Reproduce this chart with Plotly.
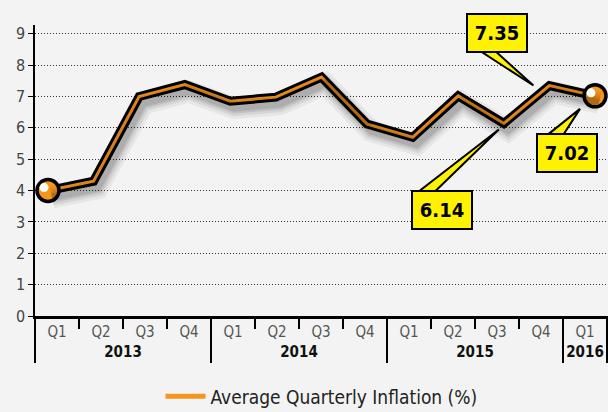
import plotly.graph_objects as go

# ---- data ----
years = ["2013", "2013", "2013", "2013", "2014", "2014", "2014", "2014",
         "2015", "2015", "2015", "2015", "2016"]
quarters = ["Q1", "Q2", "Q3", "Q4", "Q1", "Q2", "Q3", "Q4",
            "Q1", "Q2", "Q3", "Q4", "Q1"]
inflation = [4.0, 4.3, 7.0, 7.38, 6.85, 6.98, 7.62, 6.12, 5.7, 7.02, 6.14, 7.35, 7.02]
series_name = "Average Quarterly Inflation (%)"
y_ticks = [0, 1, 2, 3, 4, 5, 6, 7, 8, 9]
callout_idx = [11, 10, 12]
marker_idx = [0, 12]

# ---- style / layout constants ----
FONT = "DejaVu Sans Condensed, Liberation Sans Narrow, Roboto Condensed, sans-serif"
ORANGE = "#f7941d"
YELLOW = "#fff200"
BG = "#f2f3f2"
PX_X = 45.6    # px per index unit on the numeric x axis
PX_Y = 31.36   # px per unit on y
X_LO, X_HI = -13 / PX_X, 12 + 13 / PX_X
Y_LO, Y_HI = 0, 9.28

n = len(inflation)
idx = list(range(n))

fig = go.Figure()

# invisible trace to build the multicategory axis
fig.add_trace(go.Scatter(
    x=[["<b><span style='color:#111'>%s</span></b>" % y for y in years], quarters],
    y=inflation, mode="markers", marker=dict(opacity=0), hoverinfo="skip",
    showlegend=False, xaxis="x", yaxis="y"))

# shadow (same data, shifted axes)
for w, a in [(22, 0.05), (16, 0.07), (11, 0.09), (7, 0.1)]:
    fig.add_trace(go.Scatter(x=idx, y=inflation, mode="lines",
                             line=dict(color="rgba(0,0,0,%g)" % a, width=w),
                             hoverinfo="skip", showlegend=False,
                             xaxis="x3", yaxis="y2"))

# main line: black outline + orange core
fig.add_trace(go.Scatter(x=idx, y=inflation, mode="lines",
                         line=dict(color="black", width=9),
                         hoverinfo="skip", showlegend=False, xaxis="x2", yaxis="y"))
fig.add_trace(go.Scatter(x=idx, y=inflation, mode="lines",
                         line=dict(color=ORANGE, width=3),
                         showlegend=False, xaxis="x2", yaxis="y"))

# end markers
fig.add_trace(go.Scatter(x=[idx[i] for i in marker_idx],
                         y=[inflation[i] for i in marker_idx], mode="markers",
                         marker=dict(size=22, color=ORANGE,
                                     line=dict(color="black", width=3.5)),
                         showlegend=False, xaxis="x2", yaxis="y"))
# highlight dots (shifted axes)
fig.add_trace(go.Scatter(x=[idx[i] for i in marker_idx],
                         y=[inflation[i] for i in marker_idx], mode="markers",
                         marker=dict(size=9, color="white"),
                         hoverinfo="skip", showlegend=False, xaxis="x4", yaxis="y3"))

# legend entry
fig.add_trace(go.Scatter(x=[None], y=[None], mode="lines",
                         line=dict(color=ORANGE, width=5), name=series_name,
                         xaxis="x2", yaxis="y"))

# callouts
box_offsets = {11: (-52, 53), 10: (-62, -87), 12: (-28, -57)}
wedges = {11: "M -73,37 L -57,37 L -16,0 Z",
          10: "M -89,-71 L -72,-71 L -5,-6 Z",
          12: "M -50,-41 L -33,-41 L -15,-13 Z"}
annotations = []
shapes = []
for i in callout_idx:
    dx, dy = box_offsets[i]
    shapes.append(dict(type="path", xref="x2", yref="y", xsizemode="pixel",
                       ysizemode="pixel", xanchor=idx[i], yanchor=inflation[i],
                       path=wedges[i], fillcolor=YELLOW,
                       line=dict(color="black", width=2), layer="above"))
    annotations.append(dict(xref="x2", yref="y", x=idx[i], y=inflation[i],
                            xshift=dx, yshift=dy, showarrow=False,
                            text="<b>%.2f</b>" % inflation[i],
                            font=dict(family=FONT, size=20, color="black"),
                            bgcolor=YELLOW, bordercolor="black", borderwidth=2,
                            borderpad=0, width=58, height=36))

fig.update_layout(
    width=608, height=412,
    margin=dict(l=35, r=0, t=25, b=96, autoexpand=False),
    paper_bgcolor=BG, plot_bgcolor=BG,
    font=dict(family=FONT, color="#444"),
    showlegend=True,
    legend=dict(orientation="h", x=0.5, xanchor="center", yref="container",
                y=0.038, yanchor="middle",
                font=dict(family=FONT, size=19, color="#222"),
                bgcolor="rgba(0,0,0,0)", itemwidth=40),
    xaxis=dict(type="multicategory", range=[-0.5, n - 0.5 + 1 / 44], showgrid=False,
               showline=True, linecolor="black", linewidth=3,
               ticks="outside", tickson="boundaries", ticklen=10,
               tickcolor="black", tickwidth=1.5,
               showdividers=True, dividercolor="black", dividerwidth=1.5,
               tickfont=dict(family=FONT, size=15, color="#555"),
               zeroline=False, fixedrange=True, automargin=False),
    xaxis2=dict(overlaying="x", range=[X_LO, X_HI], visible=False),
    xaxis3=dict(overlaying="x", range=[X_LO - 4 / PX_X, X_HI - 4 / PX_X], visible=False),
    xaxis4=dict(overlaying="x", range=[X_LO + 4 / PX_X, X_HI + 4 / PX_X], visible=False),
    yaxis=dict(range=[Y_LO, Y_HI], tickvals=y_ticks, showline=True,
               linecolor="black", linewidth=1.5, ticks="outside", ticklen=5,
               tickcolor="black", showgrid=True, gridcolor="#333",
               griddash="1px,2px", gridwidth=1, zeroline=False, automargin=False,
               tickfont=dict(family=FONT, size=16, color="#444")),
    yaxis2=dict(overlaying="y", range=[Y_LO + 7 / PX_Y, Y_HI + 7 / PX_Y], visible=False),
    yaxis3=dict(overlaying="y", range=[Y_LO - 3 / PX_Y, Y_HI - 3 / PX_Y], visible=False),
    annotations=annotations,
    shapes=shapes,
)

fig.write_html("out.html", config={"displayModeBar": False},
               post_script="document.body.style.margin='0px';")
